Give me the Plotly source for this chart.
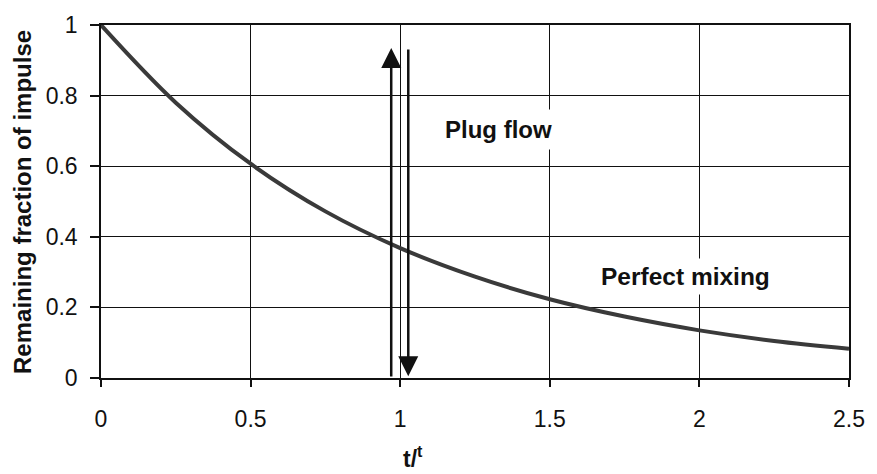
import plotly.graph_objects as go

# Residence-time response: fraction of an impulse still in the vessel vs t/τ
t_ratio = [0.0, 0.25, 0.5, 0.75, 1.0, 1.25, 1.5, 1.75, 2.0, 2.25, 2.5]
remaining = [1.0, 0.78, 0.607, 0.472, 0.368, 0.287, 0.223, 0.174, 0.135, 0.105, 0.083]

# Plug flow impulse: enters and leaves as a spike around t/τ = 1
plug_in_x = 0.97
plug_out_x = 1.027
plug_top = 0.935
plug_bottom = 0.0

x_ticks = [0, 0.5, 1, 1.5, 2, 2.5]
x_tick_text = ["0", "0.5", "1", "1.5", "2", "2.5"]
y_ticks = [0, 0.2, 0.4, 0.6, 0.8, 1]
y_tick_text = ["0", "0.2", "0.4", "0.6", "0.8", "1"]

FONT = "Liberation Sans, Arial, sans-serif"

fig = go.Figure()

fig.add_trace(go.Scatter(
    x=t_ratio, y=remaining, mode="lines",
    line=dict(color="#3a3a3a", width=4, shape="spline", smoothing=1.0),
    hoverinfo="skip", showlegend=False,
))

annotations = [
    # upward arrow: impulse enters
    dict(x=plug_in_x, y=plug_top, ax=plug_in_x, ay=plug_bottom,
         xref="x", yref="y", axref="x", ayref="y", showarrow=True,
         arrowhead=2, arrowsize=1.6, arrowwidth=2.5, arrowcolor="#111111", text=""),
    # downward arrow: impulse leaves
    dict(x=plug_out_x, y=plug_bottom + 0.005, ax=plug_out_x, ay=plug_top,
         xref="x", yref="y", axref="x", ayref="y", showarrow=True,
         arrowhead=2, arrowsize=1.6, arrowwidth=2.5, arrowcolor="#111111", text=""),
    dict(x=1.33, y=0.705, xref="x", yref="y", text="<b>Plug flow</b>",
         showarrow=False, bgcolor="white", borderpad=6,
         font=dict(family=FONT, size=24, color="#111111")),
    dict(x=1.955, y=0.287, xref="x", yref="y", text="<b>Perfect mixing</b>",
         showarrow=False, bgcolor="white", borderpad=4,
         font=dict(family=FONT, size=24.5, color="#111111")),
    dict(x=0.417, y=-0.225, xref="paper", yref="paper", text="<b>t/<sup>t</sup></b>",
         showarrow=False, xanchor="center", yanchor="middle",
         font=dict(family=FONT, size=23, color="#111111")),
    dict(x=-0.105, y=0.5, xref="paper", yref="paper",
         text="<b>Remaining fraction of impulse</b>", textangle=-90,
         showarrow=False, xanchor="center", yanchor="middle",
         font=dict(family=FONT, size=24, color="#111111")),
]

fig.update_layout(
    width=877, height=474,
    margin=dict(l=101, r=19, t=19, b=96),
    paper_bgcolor="white", plot_bgcolor="white",
    font=dict(family=FONT, size=23, color="#111111"),
    annotations=annotations,
    showlegend=False,
)

fig.update_xaxes(
    range=[0, 2.5], tickvals=x_ticks, ticktext=x_tick_text,
    showgrid=True, gridcolor="#111111", gridwidth=1,
    showline=True, linecolor="#111111", linewidth=1.5, mirror=True,
    ticks="outside", ticklen=7, tickwidth=1.5, tickcolor="#111111",
    ticklabelstandoff=13, zeroline=False,
)
fig.update_yaxes(
    range=[0, 1], tickvals=y_ticks, ticktext=y_tick_text,
    showgrid=True, gridcolor="#111111", gridwidth=1,
    showline=True, linecolor="#111111", linewidth=1.5, mirror=True,
    ticks="outside", ticklen=9, tickwidth=1.5, tickcolor="#111111",
    ticklabelstandoff=8, zeroline=False,
)

fig.write_html("out.html")
